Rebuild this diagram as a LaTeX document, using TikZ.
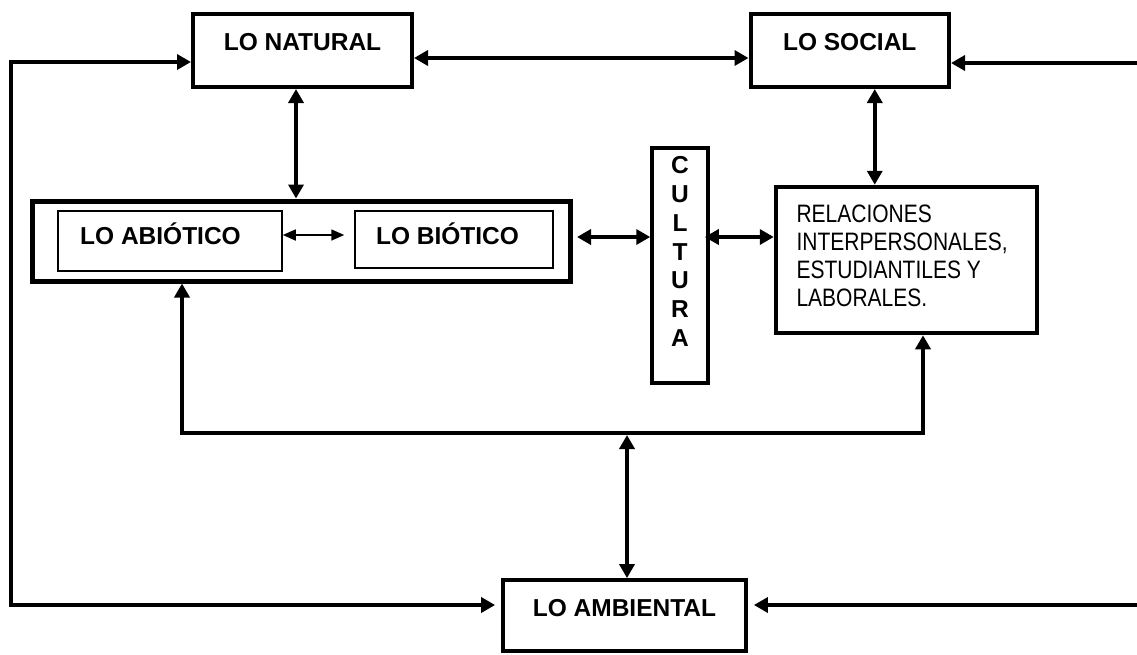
\documentclass[tikz,border=0pt]{standalone}
\usepackage{fontspec}
\setmainfont{Liberation Sans}
\usetikzlibrary{arrows.meta}
\begin{document}
\begin{tikzpicture}[x=1pt,y=-1pt,
  >={Triangle[length=14pt,width=15pt]},
  box/.style={draw, line width=4pt, inner sep=0pt,
    font=\bfseries\fontsize{24.5}{28}\selectfont, text height=17.5pt, text depth=0pt},
  thinbox/.style={box, line width=1.5pt},
  tallbox/.style={draw, line width=4pt, inner sep=0pt, text height=0pt},
  conn/.style={line width=4.2pt, line join=miter},
  thinconn/.style={line width=1.6pt, >={Triangle[length=13pt,width=11pt]}}]
\useasboundingbox (0,0) rectangle (1137,654);

% boxes
\node[box, minimum width=219pt, minimum height=73pt] (nat) at (302.5,50.5) {\raisebox{8.5pt}{LO NATURAL}};
\node[box, minimum width=198.5pt, minimum height=73pt] (soc) at (849.75,50.5) {\raisebox{8.5pt}{LO SOCIAL}};
\node[box, line width=5pt, minimum width=538pt, minimum height=80pt] (outer) at (301,241) {};
\node[thinbox, minimum width=224pt, minimum height=60pt] (abio) at (170,241) {\raisebox{5pt}{LO ABIÓTICO\hspace*{19pt}}};
\node[thinbox, minimum width=198pt, minimum height=57pt] (bio) at (454,239.5) {\raisebox{3.5pt}{LO BIÓTICO\hspace*{13pt}}};
\node[tallbox, minimum width=55.5pt, minimum height=235pt, text depth=183.8pt] (cult) at (680,265.5)
  {\bfseries\fontsize{24.5}{28.8}\selectfont\begin{tabular}[t]{@{}c@{}}C\\U\\L\\T\\U\\R\\A\end{tabular}};
\node[tallbox, line width=4.5pt, minimum width=261pt, minimum height=146pt, text depth=76pt] (rel) at (906.5,260)
  {\makebox[220pt][l]{\scalebox{1}[1.2]{\fontsize{21}{23.6}\selectfont\begin{tabular}[t]{@{}l@{}}RELACIONES\\INTERPERSONALES,\\ESTUDIANTILES Y\\LABORALES.\end{tabular}}}};
\node[box, line width=3.8pt, minimum width=243pt, minimum height=71pt] (amb) at (624.5,615.5) {\raisebox{7.5pt}{LO AMBIENTAL}};

% free ends
\coordinate (lt) at (11,300);
\coordinate (rt1) at (1140,63);
\coordinate (rt2) at (1140,605);
\coordinate (bl) at (182,433);
\coordinate (br) at (923,433);

% connectors
\draw[conn,<->] ([yshift=-7.5pt]nat.east) -- ([yshift=-7.5pt]nat.east -| soc.west);
\draw[conn,<->,shorten >=6pt] ([yshift=-11.5pt]nat.west) -| (lt) |- ([yshift=10.5pt]amb.west);
\draw[conn,->] (rt1) -- (rt1 -| soc.east);
\draw[conn,->,shorten >=6pt] (rt2) -- (rt2 -| amb.east);
\draw[conn,<->] ([xshift=-6.5pt]nat.south) -- ([xshift=-6.5pt]nat.south |- outer.north);
\draw[conn,<->] ([xshift=25pt]soc.south) -- ([xshift=25pt]soc.south |- rel.north);
\draw[conn,<->,shorten <=4.5pt] ([yshift=4pt]outer.east) -- ([yshift=4pt]outer.east -| cult.west);
\draw[conn,<->,shorten <=-5pt] ([yshift=28.5pt]cult.east) -- ([yshift=28.5pt]cult.east -| rel.west);
\draw[thinconn,<->,shorten >=10pt] ([yshift=6pt]abio.east) -- ([yshift=6pt]abio.east -| bio.west);
\draw[conn,<->] (bl |- outer.south) -- (bl) -- (br) -- (br |- rel.south);
\draw[conn,<->,shorten <=2pt] ([xshift=2.5pt]amb.north |- bl) -- ([xshift=2.5pt]amb.north);
\end{tikzpicture}
\end{document}
